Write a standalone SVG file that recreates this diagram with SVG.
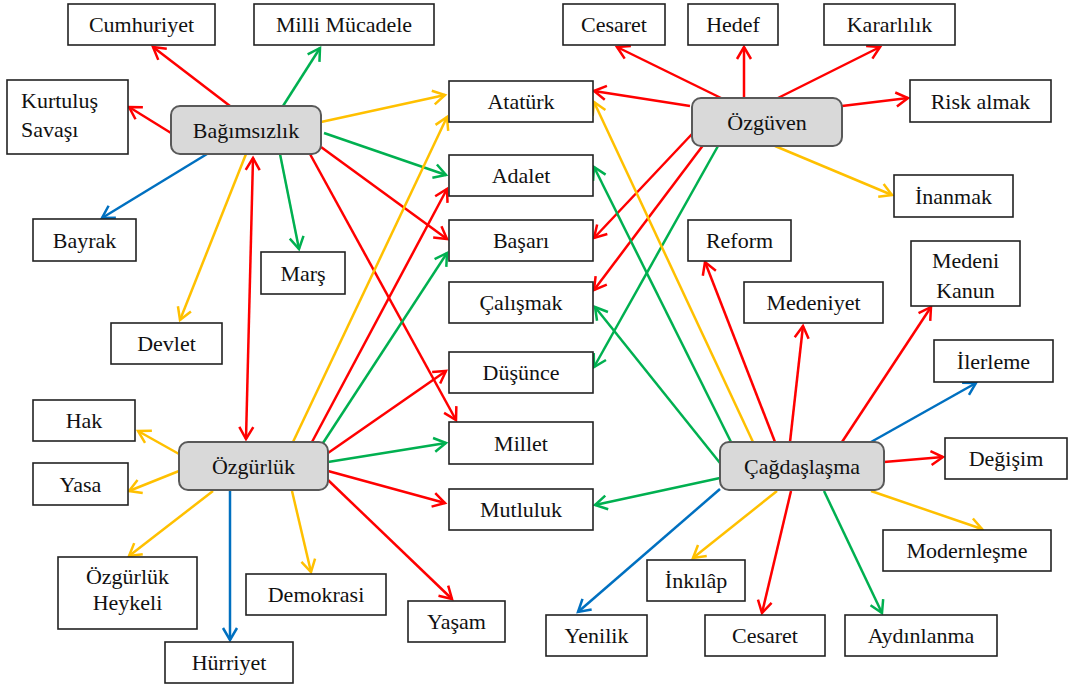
<svg xmlns="http://www.w3.org/2000/svg" width="1077" height="689" viewBox="0 0 1077 689" font-family="Liberation Serif, DejaVu Serif, serif">
<style>
.b{fill:#fff;stroke:#222;stroke-width:1.6}
.c{fill:#d9d9d9;stroke:#595959;stroke-width:2}
text{font-size:22px;fill:#111;text-anchor:middle}
.l{text-anchor:start}
line{stroke-width:2.5;fill:none}
.r{stroke:#ff0000;marker-end:url(#mr)}
.g{stroke:#00b050;marker-end:url(#mg)}
.y{stroke:#ffc000;marker-end:url(#my)}
.u{stroke:#0070c0;marker-end:url(#mu)}
</style>
<defs>
<marker id="mr" markerUnits="userSpaceOnUse" markerWidth="18" markerHeight="18" viewBox="0 0 18 18" refX="15" refY="9" orient="auto-start-reverse"><path d="M3,2 L15,9 L3,16" fill="none" stroke="#ff0000" stroke-width="2.5"/></marker>
<marker id="mg" markerUnits="userSpaceOnUse" markerWidth="18" markerHeight="18" viewBox="0 0 18 18" refX="15" refY="9" orient="auto"><path d="M3,2 L15,9 L3,16" fill="none" stroke="#00b050" stroke-width="2.5"/></marker>
<marker id="my" markerUnits="userSpaceOnUse" markerWidth="18" markerHeight="18" viewBox="0 0 18 18" refX="15" refY="9" orient="auto"><path d="M3,2 L15,9 L3,16" fill="none" stroke="#ffc000" stroke-width="2.5"/></marker>
<marker id="mu" markerUnits="userSpaceOnUse" markerWidth="18" markerHeight="18" viewBox="0 0 18 18" refX="15" refY="9" orient="auto"><path d="M3,2 L15,9 L3,16" fill="none" stroke="#0070c0" stroke-width="2.5"/></marker>
</defs>

<g id="connectors">
<line class="r" x1="230" y1="106" x2="153" y2="47"/>
<line class="r" x1="171" y1="133" x2="129" y2="107"/>
<line class="g" x1="283" y1="106" x2="320" y2="48"/>
<line class="y" x1="321" y1="122" x2="445" y2="95"/>
<line class="g" x1="324" y1="133" x2="446" y2="175"/>
<line class="r" x1="321" y1="147" x2="447" y2="239"/>
<line class="u" x1="207" y1="154" x2="102" y2="218"/>
<line class="y" x1="246" y1="154" x2="180" y2="320"/>
<line class="g" x1="280" y1="154" x2="299" y2="249"/>
<line class="r" x1="310" y1="154" x2="456" y2="420"/>
<line class="r" style="marker-start:url(#mr)" x1="253" y1="158" x2="246" y2="439"/>
<line class="y" x1="293" y1="442" x2="447" y2="117"/>
<line class="r" x1="312" y1="442" x2="447" y2="189"/>
<line class="g" x1="323" y1="443" x2="447" y2="253"/>
<line class="r" x1="328" y1="453" x2="446" y2="371"/>
<line class="g" x1="328" y1="462" x2="446" y2="443"/>
<line class="r" x1="328" y1="471" x2="445" y2="503"/>
<line class="r" x1="328" y1="480" x2="452" y2="599"/>
<line class="y" x1="179" y1="454" x2="138" y2="431"/>
<line class="y" x1="179" y1="471" x2="129" y2="491"/>
<line class="y" x1="213" y1="491" x2="129" y2="556"/>
<line class="u" x1="230" y1="491" x2="230" y2="640"/>
<line class="y" x1="292" y1="491" x2="311" y2="572"/>
<line class="r" x1="721" y1="98" x2="617" y2="47"/>
<line class="r" x1="744" y1="98" x2="744" y2="47"/>
<line class="r" x1="778" y1="98" x2="880" y2="47"/>
<line class="r" x1="842" y1="106" x2="908" y2="98"/>
<line class="r" x1="690" y1="106" x2="594" y2="91"/>
<line class="y" x1="775" y1="146" x2="892" y2="195"/>
<line class="r" x1="692" y1="134" x2="594" y2="238"/>
<line class="r" x1="704" y1="144" x2="594" y2="290"/>
<line class="g" x1="718" y1="146" x2="594" y2="367"/>
<line class="y" x1="753" y1="442" x2="594" y2="102"/>
<line class="g" x1="731" y1="442" x2="594" y2="167"/>
<line class="g" x1="720" y1="463" x2="595" y2="307"/>
<line class="g" x1="720" y1="478" x2="595" y2="505"/>
<line class="r" x1="775" y1="442" x2="705" y2="262"/>
<line class="r" x1="790" y1="442" x2="803" y2="326"/>
<line class="r" x1="842" y1="442" x2="931" y2="307"/>
<line class="u" x1="871" y1="442" x2="976" y2="383"/>
<line class="r" x1="884" y1="462" x2="943" y2="457"/>
<line class="y" x1="871" y1="491" x2="982" y2="529"/>
<line class="y" x1="777" y1="491" x2="693" y2="558"/>
<line class="u" x1="720" y1="489" x2="578" y2="612"/>
<line class="r" x1="791" y1="491" x2="762" y2="613"/>
<line class="g" x1="824" y1="491" x2="882" y2="613"/>
</g>

<g id="n-bagimsizlik"><rect class="c" x="171" y="106" width="150" height="48" rx="9"/><text x="246" y="138">Bağımsızlık</text></g>
<g id="n-ozguven"><rect class="c" x="692" y="98" width="150" height="48" rx="9"/><text x="767" y="130">Özgüven</text></g>
<g id="n-ozgurluk"><rect class="c" x="179" y="442" width="149" height="48" rx="9"/><text x="253.5" y="474">Özgürlük</text></g>
<g id="n-cagdaslasma"><rect class="c" x="720" y="442" width="164" height="48" rx="9"/><text x="802" y="474">Çağdaşlaşma</text></g>

<g id="n-cumhuriyet"><rect class="b" x="68" y="4" width="147" height="41"/><text x="141.5" y="32">Cumhuriyet</text></g>
<g id="n-millimucadele"><rect class="b" x="254" y="4" width="180" height="41"/><text x="344" y="32">Milli Mücadele</text></g>
<g id="n-kurtulus"><rect class="b" x="7" y="80" width="121" height="74"/><text class="l" x="21" y="108">Kurtuluş</text><text class="l" x="21" y="137">Savaşı</text></g>
<g id="n-bayrak"><rect class="b" x="33" y="219" width="103" height="42"/><text x="84.5" y="248">Bayrak</text></g>
<g id="n-mars"><rect class="b" x="261" y="252" width="84" height="42"/><text x="303" y="281">Marş</text></g>
<g id="n-devlet"><rect class="b" x="111" y="323" width="111" height="41"/><text x="166.5" y="351">Devlet</text></g>

<g id="n-ataturk"><rect class="b" x="449" y="81" width="144" height="41"/><text x="521" y="109">Atatürk</text></g>
<g id="n-adalet"><rect class="b" x="449" y="155" width="144" height="41"/><text x="521" y="183">Adalet</text></g>
<g id="n-basari"><rect class="b" x="449" y="220" width="144" height="41"/><text x="521" y="248">Başarı</text></g>
<g id="n-calismak"><rect class="b" x="449" y="282" width="144" height="41"/><text x="521" y="310">Çalışmak</text></g>
<g id="n-dusunce"><rect class="b" x="449" y="352" width="144" height="41"/><text x="521" y="380">Düşünce</text></g>
<g id="n-millet"><rect class="b" x="449" y="422" width="144" height="42"/><text x="521" y="451">Millet</text></g>
<g id="n-mutluluk"><rect class="b" x="449" y="489" width="144" height="41"/><text x="521" y="517">Mutluluk</text></g>

<g id="n-cesaret1"><rect class="b" x="563" y="4" width="102" height="41"/><text x="614" y="32">Cesaret</text></g>
<g id="n-hedef"><rect class="b" x="688" y="4" width="90" height="41"/><text x="733" y="32">Hedef</text></g>
<g id="n-kararlilik"><rect class="b" x="824" y="4" width="131" height="41"/><text x="889.5" y="32">Kararlılık</text></g>
<g id="n-risk"><rect class="b" x="910" y="80" width="141" height="42"/><text x="980.5" y="109">Risk almak</text></g>
<g id="n-inanmak"><rect class="b" x="894" y="175" width="119" height="42"/><text x="953.5" y="204">İnanmak</text></g>
<g id="n-reform"><rect class="b" x="688" y="220" width="103" height="41"/><text x="739.5" y="248">Reform</text></g>
<g id="n-medeniyet"><rect class="b" x="744" y="282" width="139" height="41"/><text x="813.5" y="310">Medeniyet</text></g>
<g id="n-medenikanun"><rect class="b" x="911" y="241" width="109" height="65"/><text x="965.5" y="268">Medeni</text><text x="965.5" y="298">Kanun</text></g>
<g id="n-ilerleme"><rect class="b" x="934" y="340" width="119" height="42"/><text x="993.5" y="369">İlerleme</text></g>
<g id="n-degisim"><rect class="b" x="945" y="438" width="122" height="41"/><text x="1006" y="466">Değişim</text></g>
<g id="n-modernlesme"><rect class="b" x="883" y="530" width="168" height="41"/><text x="967" y="558">Modernleşme</text></g>
<g id="n-inkilap"><rect class="b" x="647" y="560" width="98" height="41"/><text x="696" y="588">İnkılâp</text></g>
<g id="n-yenilik"><rect class="b" x="546" y="615" width="101" height="41"/><text x="596.5" y="643">Yenilik</text></g>
<g id="n-cesaret2"><rect class="b" x="705" y="615" width="120" height="41"/><text x="765" y="643">Cesaret</text></g>
<g id="n-aydinlanma"><rect class="b" x="845" y="615" width="152" height="41"/><text x="921" y="643">Aydınlanma</text></g>

<g id="n-hak"><rect class="b" x="33" y="400" width="102" height="41"/><text x="84" y="428">Hak</text></g>
<g id="n-yasa"><rect class="b" x="33" y="463" width="95" height="42"/><text x="80.5" y="492">Yasa</text></g>
<g id="n-heykel"><rect class="b" x="58" y="557" width="139" height="72"/><text x="127.5" y="584">Özgürlük</text><text x="127.5" y="610">Heykeli</text></g>
<g id="n-demokrasi"><rect class="b" x="246" y="574" width="140" height="41"/><text x="316" y="602">Demokrasi</text></g>
<g id="n-hurriyet"><rect class="b" x="165" y="642" width="128" height="41"/><text x="229" y="670">Hürriyet</text></g>
<g id="n-yasam"><rect class="b" x="408" y="601" width="97" height="41"/><text x="456.5" y="629">Yaşam</text></g>
</svg>
